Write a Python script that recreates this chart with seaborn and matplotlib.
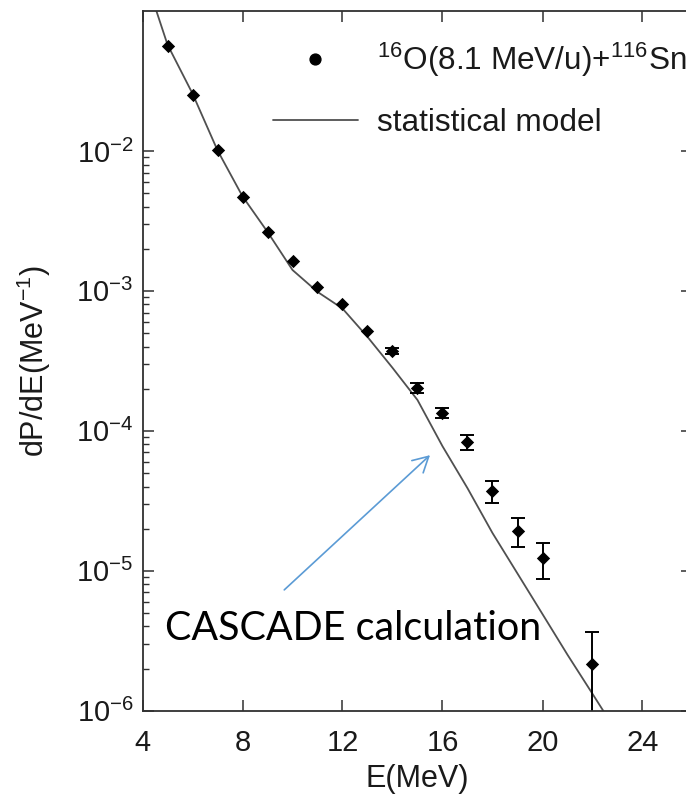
import numpy as np
import pandas as pd
import matplotlib
matplotlib.use("Agg")
import matplotlib.pyplot as plt
import seaborn as sns
from matplotlib.ticker import FixedLocator, FuncFormatter, NullFormatter, NullLocator
from matplotlib.lines import Line2D

# ---- data ----
energy_exp = [5, 6, 7, 8, 9, 10, 11, 12, 13, 14, 15, 16, 17, 18, 19, 20, 22]
dpde_exp = [5.62e-2, 2.53e-2, 1.01e-2, 4.65e-3, 2.64e-3, 1.64e-3, 1.06e-3, 8.0e-4,
            5.15e-4, 3.73e-4, 2.03e-4, 1.35e-4, 8.3e-5, 3.7e-5, 1.93e-5, 1.23e-5, 2.14e-6]
dpde_err = [0, 0, 0, 0, 0, 0, 0, 0,
            0, 2.0e-5, 1.75e-5, 1.16e-5, 1.0e-5, 6.5e-6, 4.6e-6, 3.6e-6, 1.5e-6]

energy_model = [4, 5, 6, 7, 8, 9, 10, 11, 12, 13, 14, 15, 16, 17, 18, 19, 20, 21, 22, 23]
dpde_model = [2.0e-1, 5.75e-2, 2.57e-2, 1.01e-2, 4.74e-3, 2.64e-3, 1.41e-3, 9.84e-4,
              7.48e-4, 4.69e-4, 2.82e-4, 1.66e-4, 7.76e-5, 3.89e-5, 1.86e-5, 9.55e-6,
              4.9e-6, 2.51e-6, 1.32e-6, 6.9e-7]

x_ticks = [4, 8, 12, 16, 20, 24]
y_major = [1e-6, 1e-5, 1e-4, 1e-3, 1e-2]
legend_labels = [r"$^{16}$O(8.1 MeV/u)+$^{116}$Sn", "statistical model"]
annotation_text = "CASCADE calculation"

exp_df = pd.DataFrame({"E": energy_exp, "P": dpde_exp, "err": dpde_err})
model_df = pd.DataFrame({"E": energy_model, "P": dpde_model})
err_df = exp_df[exp_df["err"] > 0]

# ---- style ----
sns.set_theme(style="white")
plt.rcParams["font.family"] = ["Liberation Sans", "DejaVu Sans"]
plt.rcParams["mathtext.fontset"] = "custom"
plt.rcParams["mathtext.rm"] = "Liberation Sans"
plt.rcParams["mathtext.it"] = "Liberation Sans:italic"
plt.rcParams["mathtext.bf"] = "Liberation Sans:bold"
plt.rcParams["text.color"] = "#1a1a1a"

W, H = 686, 805
fig = plt.figure(figsize=(W / 100, H / 100), dpi=100)
left_px, right_px, top_px, bottom_px = 142.5, 692.5, 11.0, 710.7
ax = fig.add_axes([left_px / W, 1 - bottom_px / H, (right_px - left_px) / W, (bottom_px - top_px) / H])

line_color = "#505050"
sns.lineplot(data=model_df, x="E", y="P", ax=ax, color=line_color, linewidth=1.3,
             sort=False, estimator=None)
ax.errorbar(err_df["E"], err_df["P"], yerr=err_df["err"], fmt="none", ecolor="black",
            elinewidth=1.4, capsize=4.7, capthick=1.4, zorder=3)
sns.scatterplot(data=exp_df, x="E", y="P", ax=ax, marker="D", s=46, color="black",
                edgecolor="black", linewidth=0, zorder=4)

ax.set_yscale("log")
ax.set_xlim(4, 26)
ax.set_ylim(1e-6, 0.1)

ax.xaxis.set_major_locator(FixedLocator(x_ticks))
ax.xaxis.set_minor_locator(NullLocator())
ax.yaxis.set_major_locator(FixedLocator(y_major))
minor_pos = [k * 10.0 ** e for e in range(-6, -2) for k in range(2, 10)]
ax.yaxis.set_minor_locator(FixedLocator(minor_pos))
ax.yaxis.set_minor_formatter(NullFormatter())
ax.yaxis.set_major_formatter(FuncFormatter(lambda v, p: r"10$^{%d}$" % int(round(np.log10(v)))))

spine_color = "#303030"
for s in ax.spines.values():
    s.set_visible(True)
    s.set_color(spine_color)
    s.set_linewidth(1.3)
    s.set_zorder(5)

ax.tick_params(axis="both", which="major", direction="in", length=7.7, width=1.1,
               colors=spine_color, labelcolor="#1a1a1a", labelsize=21,
               top=True, right=True, bottom=True, left=True)
ax.tick_params(axis="y", which="minor", direction="in", length=4, width=1.0,
               colors=spine_color, left=True, right=True)
ax.tick_params(axis="x", which="major", pad=13)
ax.tick_params(axis="y", which="major", pad=6.5)

ax.set_xlabel("E(MeV)", fontsize=22, color="#1a1a1a")
ax.set_ylabel(r"dP/dE(MeV$^{-1}$)", fontsize=22, color="#1a1a1a")
ax.xaxis.set_label_coords(0.499, -0.076)
ax.yaxis.set_label_coords(-0.163, 0.5)
ax.xaxis.label.set_va("top")

handles = [Line2D([], [], marker="o", color="black", ls="none", markersize=7.8),
           Line2D([], [], color=line_color, lw=1.3)]
ax.legend(handles, legend_labels, loc="upper left", bbox_to_anchor=(0.2364, 0.958),
          frameon=False, borderpad=0, borderaxespad=0, handlelength=2.72,
          handletextpad=0.58, labelspacing=0.92, fontsize=22.7)

ax.annotate("", xy=(15.5, 6.7e-5), xytext=(9.67, 7.3e-6),
            arrowprops=dict(arrowstyle="->,head_length=0.55,head_width=0.3",
                            color="#5B9BD5", lw=1.2, mutation_scale=20,
                            shrinkA=0, shrinkB=0))

txt = ax.text(4.9, 3.2e-6, annotation_text, fontsize=28, color="black",
              family=["Lato", "DejaVu Sans"], ha="left", va="baseline")
fig.canvas.draw()
w = txt.get_window_extent().width
txt.set_fontsize(28 * 377.0 / w)

fig.savefig("out.png", dpi=100)
